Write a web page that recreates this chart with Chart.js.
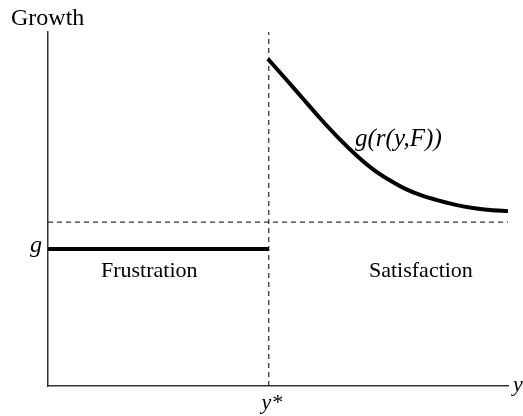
<!DOCTYPE html>
<html>
<head>
<meta charset="utf-8">
<title>Growth: frustration and satisfaction</title>
<script src="https://cdn.jsdelivr.net/npm/chart.js@4/dist/chart.umd.min.js"></script>
<style>
  html, body { margin: 0; padding: 0; background: #fff; }
  #wrap { width: 523px; height: 416px; }
</style>
</head>
<body>
<div id="wrap"><canvas id="chart" width="523" height="416"></canvas></div>
<script>
// Values, on a 0-100 scale for both axes
const yStar = 48;          // threshold income y*
const gLevel = 38.7;       // growth under frustration (g)
const asymptote = 46.3;    // dashed horizontal level

const curveX = [47.8, 51.5, 55.2, 59.1, 63.5, 67.2, 70.9, 74.3, 77.8, 81.5, 85.2, 88.9, 92.4, 96.1, 100];
const curveY = [92.4, 87.0, 81.5, 75.7, 69.6, 65.0, 61.0, 58.1, 55.6, 53.7, 52.3, 51.1, 50.3, 49.7, 49.4];

const frustrationX = [0, yStar];
const axisRange = [0, 100];

const serif = "'Liberation Serif', 'Times New Roman', serif";

function pts(xs, ys) {
    return xs.map((x, i) => ({ x: x, y: ys[i] }));
}

// Free text on the plot (labels, axis names)
const textPlugin = {
    id: 'labels',
    afterDatasetsDraw(chart) {
        const ctx = chart.ctx;
        const xs = chart.scales.x, ys = chart.scales.y;
        ctx.save();
        ctx.fillStyle = '#000';
        ctx.textBaseline = 'alphabetic';

        ctx.font = '24px ' + serif;
        ctx.textAlign = 'left';
        ctx.fillText('Growth', 11, 25);

        ctx.font = 'italic 24px ' + serif;
        ctx.textAlign = 'right';
        ctx.fillText('g', xs.left - 6, ys.getPixelForValue(gLevel) + 3);

        ctx.font = '22px ' + serif;
        ctx.textAlign = 'left';
        ctx.fillText('Frustration', 101, 277);
        ctx.fillText('Satisfaction', 369, 277);

        ctx.font = 'italic 25px ' + serif;
        ctx.fillText('g(r(y,F))', 355, 146);

        ctx.font = 'italic 22px ' + serif;
        ctx.textAlign = 'center';
        ctx.fillText('y*', xs.getPixelForValue(yStar) + 3, 409);

        ctx.textAlign = 'left';
        ctx.fillText('y', xs.right + 5, ys.bottom + 5);
        ctx.restore();
    }
};

const whiteBg = {
    id: 'whiteBg',
    beforeDraw(chart) {
        const ctx = chart.ctx;
        ctx.save();
        ctx.fillStyle = '#fff';
        ctx.fillRect(0, 0, chart.width, chart.height);
        ctx.restore();
    }
};

new Chart(document.getElementById('chart'), {
    type: 'line',
    data: {
        datasets: [
            {
                // vertical dashed line at y*
                data: pts([yStar, yStar], axisRange),
                borderColor: '#000',
                borderWidth: 1,
                borderDash: [5, 4],
                pointRadius: 0,
                clip: false
            },
            {
                // horizontal dashed level
                data: pts(axisRange, [asymptote, asymptote]),
                borderColor: '#000',
                borderWidth: 1,
                borderDash: [5, 4],
                pointRadius: 0,
                clip: false
            },
            {
                // frustration segment at g
                data: pts(frustrationX, [gLevel, gLevel]),
                borderColor: '#000',
                borderWidth: 4,
                pointRadius: 0,
                clip: false
            },
            {
                // g(r(y,F)) curve
                data: pts(curveX, curveY),
                borderColor: '#000',
                borderWidth: 4,
                cubicInterpolationMode: 'monotone',
                pointRadius: 0,
                clip: false
            }
        ]
    },
    options: {
        responsive: false,
        animation: false,
        devicePixelRatio: 1,
        layout: { padding: { left: 48, top: 32, right: 15, bottom: 30 } },
        plugins: { legend: { display: false }, tooltip: { enabled: false } },
        scales: {
            x: {
                type: 'linear',
                min: 0,
                max: 100,
                grid: { display: false, drawTicks: false },
                ticks: { display: false },
                border: { display: true, color: '#333', width: 1.5 }
            },
            y: {
                type: 'linear',
                min: 0,
                max: 100,
                grid: { display: false, drawTicks: false },
                ticks: { display: false },
                border: { display: true, color: '#333', width: 1.5 }
            }
        }
    },
    plugins: [whiteBg, textPlugin]
});
</script>
</body>
</html>
